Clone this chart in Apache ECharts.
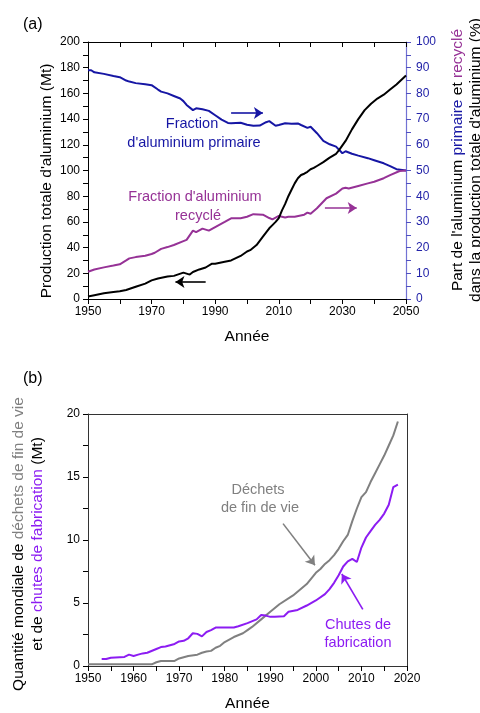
<!DOCTYPE html>
<html><head><meta charset="utf-8">
<script src="https://cdn.jsdelivr.net/npm/echarts@6/dist/echarts.min.js"></script>
<style>html,body{margin:0;padding:0;background:#fff}#c{width:480px;height:713px}</style>
</head><body><div id="c"></div>
<script>
// (a) Production totale d'aluminium (Mt)
const prodYears  = [1950,1952,1955,1958,1960,1962,1965,1968,1970,1972,1975,1977,1980,1982,1983,1985,1987,1989,1990,1993,1995,1998,2000,2001,2003,2005,2007,2008,2009,2010,2011,2012,2013,2014,2015,2016,2017,2018,2019,2020,2021,2022,2024,2026,2028,2029,2031,2033,2035,2037,2039,2041,2043,2045,2047,2050];
const prodValues = [2,3,4.5,5.5,6,7,9.5,12,14.5,16,17.5,18,20.5,19,21,23,24.5,27.5,27.5,29,30,33.5,37,38,42,48.5,55,57.5,60,63,69,74,80,85,90,94,96.5,97.5,99,101,102,103.5,106.5,110,113,116,123,132,140,147,152,156,159,163,167,174];
// Fraction d'aluminium primaire (%)
const primYears  = [1950,1951,1952,1955,1958,1960,1962,1963,1965,1968,1970,1972,1973,1975,1977,1979,1980,1981,1983,1984,1986,1988,1990,1992,1994,1995,1998,2000,2002,2004,2006,2007,2009,2010,2012,2014,2016,2017,2019,2020,2022,2024,2026,2028,2030,2031,2033,2035,2038,2040,2043,2045,2047,2050];
const primValues = [89,89,88.2,87.6,86.8,86.3,85,84.6,84,83.6,83.2,81.5,80.7,80,79,78,77,75.5,73.5,74.2,73.8,73.2,71.5,69.8,68.5,68.4,68.6,67.8,67.4,67.5,68.8,69.2,67.4,67.7,68.4,68.2,68.3,67.7,66.6,67,64.5,61.5,60.2,59.3,56.7,57.5,56.5,55.8,54.8,54,52.8,51.7,50.5,50];
// Fraction d'aluminium recyclé (%)
const recYears   = [1950,1952,1955,1958,1960,1962,1963,1965,1968,1970,1971,1973,1975,1977,1980,1981,1983,1984,1986,1988,1990,1993,1995,1998,2000,2002,2005,2007,2008,2010,2012,2013,2015,2018,2019,2020,2022,2025,2028,2030,2031,2032,2035,2038,2040,2043,2045,2048,2050];
const recValues  = [10.6,11.5,12.3,13,13.5,15,15.8,16.3,16.8,17.5,18,19.5,20.2,21,22.5,23,26.6,26,27.4,26.6,28,30,31.4,31.4,32,33,32.8,31.5,31,32.3,31.7,32,32,32.8,33.6,33.2,35.3,39.2,41,43,43.3,43,44,45,45.6,47,48.2,49.8,50];
// (b) Déchets de fin de vie (Mt)
const eolYears   = [1950,1964,1965,1966,1969,1970,1972,1974,1975,1976,1977,1978,1979,1980,1982,1984,1985,1986,1988,1990,1992,1995,1998,2000,2001,2002,2003,2004,2005,2006,2007,2008,2009,2010,2011,2012,2013,2014,2015,2016,2017,2018];
const eolValues  = [0.13,0.13,0.3,0.4,0.4,0.6,0.8,0.9,1.05,1.15,1.2,1.45,1.6,1.9,2.3,2.6,2.85,3.1,3.7,4.3,4.9,5.6,6.5,7.4,7.7,8.1,8.4,8.8,9.3,9.9,10.4,11.5,12.5,13.4,13.8,14.6,15.3,16.0,16.7,17.5,18.3,19.4];
// Chutes de fabrication (Mt)
const fabYears   = [1953,1954,1955,1958,1959,1960,1961,1962,1963,1965,1966,1967,1968,1969,1970,1971,1972,1973,1974,1975,1976,1977,1978,1980,1982,1983,1985,1987,1988,1989,1990,1991,1993,1994,1996,1998,2000,2002,2003,2004,2005,2006,2007,2008,2009,2010,2011,2012,2013,2014,2015,2016,2017,2018];
const fabValues  = [0.55,0.55,0.65,0.72,0.9,0.8,0.9,1.0,1.05,1.35,1.5,1.55,1.65,1.75,1.95,2.0,2.2,2.6,2.55,2.35,2.7,2.85,3.05,3.05,3.05,3.15,3.4,3.7,4.05,4.0,3.9,3.9,3.95,4.3,4.45,4.8,5.2,5.7,6.1,6.6,7.2,7.9,8.3,8.5,8.25,9.4,10.2,10.7,11.2,11.6,12.1,12.8,14.2,14.4];

const zip = (xs, ys) => xs.map((x, i) => [x, ys[i]]);
const FONT = '"Liberation Sans", Arial, sans-serif';
const BLUE = '#1616a4', MAG = '#963296', GRAY = '#808080', VIO = '#8c1cf2';

const chart = echarts.init(document.getElementById('c'), null, {renderer: 'canvas'});
const plain = v => String(v);

function xAx(grid, pos, min, max, interval, opts) {
  return Object.assign({
    type: 'value', gridIndex: grid, position: pos, min, max, interval,
    axisLine: {show: true, onZero: false, lineStyle: {color: '#000', width: 1}},
    axisTick: {show: true, inside: false, length: 5, lineStyle: {color: '#000'}},
    minorTick: {show: true, splitNumber: 2, length: 5, lineStyle: {color: '#000'}},
    splitLine: {show: false},
    axisLabel: {show: true, fontFamily: FONT, fontSize: 12, color: '#000', margin: 7, formatter: plain}
  }, opts || {});
}

const arrowML = (color, from, to) => ({
  silent: true, symbol: ['none', 'arrow'], symbolSize: 9, animation: false,
  label: {show: false},
  lineStyle: {color, width: 1.6, type: 'solid'},
  emphasis: {disabled: true},
  data: [[{coord: from}, {coord: to}]]
});

const option = {
  animation: false,
  backgroundColor: '#fff',
  textStyle: {fontFamily: FONT},
  grid: [
    {left: 88, right: 74, top: 42, height: 257},
    {left: 88, right: 73, top: 414, height: 256}
  ],
  xAxis: [
    xAx(0, 'bottom', 1950, 2050, 20, {name: 'Année', nameLocation: 'middle', nameGap: 30,
      nameTextStyle: {fontFamily: FONT, fontSize: 15.5, color: '#000'}}),
    xAx(0, 'top', 1950, 2050, 20, {axisLabel: {show: false},
      axisTick: {show: true, inside: true, length: 5, lineStyle: {color: '#000'}},
      minorTick: {show: true, splitNumber: 2, length: 5, lineStyle: {color: '#000'}}}),
    xAx(1, 'bottom', 1950, 2020, 10, {name: 'Année', nameLocation: 'middle', nameGap: 30,
      axisLine: {show: true, onZero: false, lineStyle: {color: '#333', width: 1}},
      nameTextStyle: {fontFamily: FONT, fontSize: 15.5, color: '#000'}}),
    xAx(1, 'top', 1950, 2020, 10, {axisLabel: {show: false}, axisTick: {show: false}, minorTick: {show: false},
      axisLine: {show: true, onZero: false, lineStyle: {color: '#333', width: 1}}})
  ],
  yAxis: [
    xAx(0, 'left', 0, 200, 20, {axisLabel: {show: true, fontFamily: FONT, fontSize: 12, color: '#000', margin: 8, formatter: plain}}),
    xAx(0, 'right', 0, 100, 10, {
      axisLine: {show: true, onZero: false, lineStyle: {color: '#7272d4', width: 1.2}},
      axisTick: {show: true, inside: false, length: 5, lineStyle: {color: '#5050c0'}},
      minorTick: {show: true, splitNumber: 2, length: 5, lineStyle: {color: '#5050c0'}},
      axisLabel: {show: true, fontFamily: FONT, fontSize: 12, color: '#2323a8', margin: 10, formatter: plain}}),
    xAx(1, 'left', 0, 20, 5, {
      axisLine: {show: true, onZero: false, lineStyle: {color: '#333', width: 1}},
      axisLabel: {show: true, fontFamily: FONT, fontSize: 12, color: '#000', margin: 8, formatter: plain}}),
    xAx(1, 'right', 0, 20, 5, {axisLabel: {show: false}, axisTick: {show: false}, minorTick: {show: false},
      axisLine: {show: true, onZero: false, lineStyle: {color: '#333', width: 1}}})
  ],
  series: [
    {type: 'line', xAxisIndex: 0, yAxisIndex: 0, data: zip(prodYears, prodValues), showSymbol: false,
      lineStyle: {color: '#000', width: 2}, itemStyle: {color: '#000'}, z: 3,
      markLine: arrowML('#000', [1987, 13.3], [1977.5, 13.3])},
    {type: 'line', xAxisIndex: 0, yAxisIndex: 1, data: zip(primYears, primValues), showSymbol: false,
      lineStyle: {color: BLUE, width: 2}, itemStyle: {color: BLUE}, z: 2,
      markLine: arrowML(BLUE, [1995, 72.4], [2005, 72.4])},
    {type: 'line', xAxisIndex: 0, yAxisIndex: 1, data: zip(recYears, recValues), showSymbol: false,
      lineStyle: {color: MAG, width: 2}, itemStyle: {color: MAG}, z: 2,
      markLine: arrowML(MAG, [2024.5, 35.4], [2034.5, 35.4])},
    {type: 'line', xAxisIndex: 2, yAxisIndex: 2, data: zip(eolYears, eolValues), showSymbol: false,
      lineStyle: {color: GRAY, width: 2}, itemStyle: {color: GRAY},
      markLine: arrowML(GRAY, [1992.8, 11.3], [1999.8, 8.0])},
    {type: 'line', xAxisIndex: 2, yAxisIndex: 2, data: zip(fabYears, fabValues), showSymbol: false,
      lineStyle: {color: VIO, width: 2}, itemStyle: {color: VIO},
      markLine: arrowML(VIO, [2010.3, 4.5], [2005.7, 7.3])}
  ],
  graphic: [
    {type: 'text', x: 23, y: 25, style: {text: '(a)', font: '16px ' + FONT, fill: '#000', verticalAlign: 'middle'}},
    {type: 'text', x: 23, y: 379, style: {text: '(b)', font: '16px ' + FONT, fill: '#000', verticalAlign: 'middle'}},
    {type: 'text', x: 47, y: 181, rotation: Math.PI / 2,
      style: {text: "Production totale d'aluminium (Mt)", font: '15.5px ' + FONT, fill: '#000', align: 'center', verticalAlign: 'middle'}},
    {type: 'text', x: 467, y: 160, rotation: Math.PI / 2,
      style: {text: "{k|Part de l'aluminium }{p|primaire}{k| et }{r|recyclé}\n{k|dans la production totale d'aluminium (%)}",
        align: 'center', verticalAlign: 'middle', lineHeight: 18,
        rich: {k: {font: '15.5px ' + FONT, fill: '#000', lineHeight: 18},
               p: {font: '15.5px ' + FONT, fill: BLUE, lineHeight: 18},
               r: {font: '15.5px ' + FONT, fill: MAG, lineHeight: 18}}}},
    {type: 'text', x: 28, y: 544, rotation: Math.PI / 2,
      style: {text: "{k|Quantité mondiale de }{g|déchets de fin de vie}\n{k|et de }{v|chutes de fabrication}{k| (Mt)}",
        align: 'center', verticalAlign: 'middle', lineHeight: 19,
        rich: {k: {font: '15.5px ' + FONT, fill: '#000', lineHeight: 19},
               g: {font: '15.5px ' + FONT, fill: GRAY, lineHeight: 19},
               v: {font: '15.5px ' + FONT, fill: VIO, lineHeight: 19}}}},
    {type: 'text', x: 192, y: 124, style: {text: 'Fraction', font: '14.5px ' + FONT, fill: BLUE, align: 'center', verticalAlign: 'middle'}},
    {type: 'text', x: 194, y: 143, style: {text: "d'aluminium primaire", font: '14.5px ' + FONT, fill: BLUE, align: 'center', verticalAlign: 'middle'}},
    {type: 'text', x: 195, y: 197, style: {text: "Fraction d'aluminium", font: '14.5px ' + FONT, fill: MAG, align: 'center', verticalAlign: 'middle'}},
    {type: 'text', x: 198, y: 216, style: {text: 'recyclé', font: '14.5px ' + FONT, fill: MAG, align: 'center', verticalAlign: 'middle'}},
    {type: 'text', x: 258, y: 490, style: {text: 'Déchets', font: '14.5px ' + FONT, fill: GRAY, align: 'center', verticalAlign: 'middle'}},
    {type: 'text', x: 260, y: 508, style: {text: 'de fin de vie', font: '14.5px ' + FONT, fill: GRAY, align: 'center', verticalAlign: 'middle'}},
    {type: 'text', x: 358, y: 625, style: {text: 'Chutes de', font: '14.5px ' + FONT, fill: VIO, align: 'center', verticalAlign: 'middle'}},
    {type: 'text', x: 358, y: 643, style: {text: 'fabrication', font: '14.5px ' + FONT, fill: VIO, align: 'center', verticalAlign: 'middle'}}
  ]
};
chart.setOption(option);
</script></body></html>
